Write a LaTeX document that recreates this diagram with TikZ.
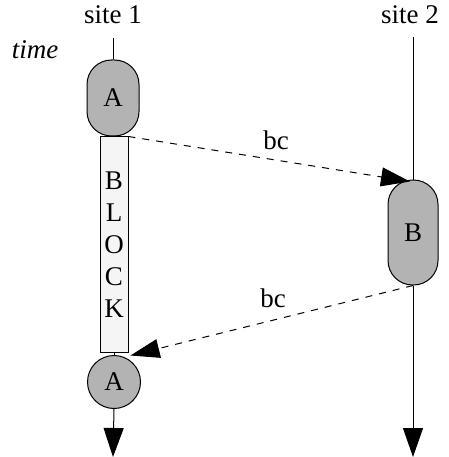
\documentclass[tikz,border=0pt]{standalone}
\usepackage{fontspec}
\setmainfont{Liberation Serif}
\usetikzlibrary{arrows.meta}
\definecolor{nodegray}{HTML}{B3B3B3}
\definecolor{blockfill}{HTML}{F5F5F5}
\begin{document}
\begin{tikzpicture}[x=1pt,y=-1pt,
  every node/.style={font=\fontsize{27}{32}\selectfont, inner sep=0pt},
  lifeline/.style={line width=1pt},
  capsule/.style={draw, line width=1pt, fill=nodegray, rectangle, rounded corners=24.5pt},
  stadiumcircle/.style={draw, line width=1pt, fill=nodegray, circle, minimum size=53pt},
  blockbox/.style={draw, line width=1pt, fill=blockfill, rectangle, minimum width=28pt, minimum height=215pt, align=center, font=\fontsize{27}{32}\selectfont},
  msg/.style={line width=1pt, dash pattern=on 7pt off 7pt, -{Triangle[length=29pt,width=19pt]}},
  endarrow/.style={line width=1pt, -{Triangle[length=29pt,width=20pt]}}
]
\useasboundingbox (0,0) rectangle (448,457);

\node (s1) at (113,15) {site 1};
\node (s2) at (410,15) {site 2};
\node (time) at (35,50) {\itshape time};

\coordinate (t1) at (113,38);
\coordinate (t2) at (413,37);
\coordinate (e1) at (113,457);
\coordinate (e2) at (413,457);

\node[capsule, minimum width=52pt, minimum height=76pt] (A1) at (113,98) {A};
\node[blockbox] (blk) at (114,244.5) {B\\L\\O\\C\\K};
\node[stadiumcircle] (A2) at (114,382) {A};
\node[capsule, minimum width=50pt, minimum height=105pt] (B) at (413,232.5) {B};

\draw[lifeline] (t1) -- (A1.north);
\draw[lifeline] (A1.south) -- (blk.north);
\draw[lifeline] (blk.south) -- (A2.north);
\draw[endarrow] (A2.south) -- (e1);
\draw[lifeline] (t2) -- (B.north);
\draw[endarrow] (B.south) -- (e2);

\draw[msg] (blk.north east) -- ([xshift=-3pt,yshift=-2pt]B.north);
\draw[msg] (B.south) -- ([xshift=2pt,yshift=-3pt]blk.south east);

\node (bc1) at (276,140) {bc};
\node (bc2) at (273,298) {bc};
\end{tikzpicture}
\end{document}
